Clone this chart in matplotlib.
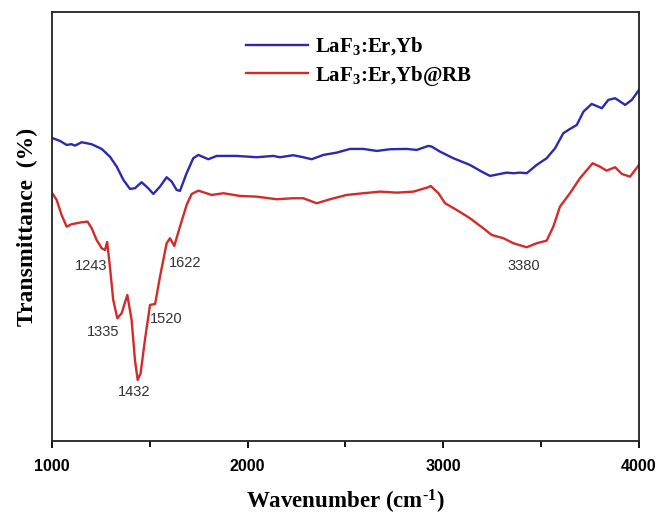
import matplotlib
matplotlib.use("Agg")
import matplotlib.pyplot as plt
from matplotlib.ticker import MultipleLocator

plt.rcParams['mathtext.fontset'] = 'custom'
plt.rcParams['mathtext.rm'] = 'Liberation Serif:bold'
plt.rcParams['mathtext.it'] = 'Liberation Serif:bold'
plt.rcParams['mathtext.bf'] = 'Liberation Serif:bold'

# ---- data (transmittance in arbitrary units) ----
wn_blue = [1000, 1041, 1075, 1100, 1118, 1152, 1203, 1254, 1296, 1331, 1365, 1399,
           1424, 1458, 1492, 1518, 1552, 1586, 1612, 1637, 1654, 1688, 1722, 1748,
           1799, 1842, 1944, 2046, 2131, 2165, 2233, 2284, 2327, 2387, 2455, 2523,
           2591, 2660, 2728, 2813, 2864, 2923, 2941, 2983, 3051, 3136, 3196, 3239,
           3290, 3324, 3358, 3392, 3426, 3477, 3528, 3571, 3613, 3639, 3682, 3716,
           3758, 3810, 3843, 3878, 3929, 3963, 4000]
t_blue = [303.0, 300.0, 296.0, 296.7, 295.3, 298.7, 296.7, 292.0, 284.3, 274.3, 261.0, 252.0,
          252.7, 258.7, 252.7, 247.0, 254.3, 263.7, 259.3, 251.0, 250.0, 267.7, 282.7, 286.0,
          281.7, 285.0, 285.0, 283.7, 285.0, 283.7, 285.7, 283.7, 281.7, 286.0, 288.3, 292.0,
          292.0, 290.0, 291.7, 292.0, 291.0, 295.0, 294.3, 289.3, 282.7, 276.0, 269.3, 265.0,
          267.0, 268.3, 267.7, 268.3, 267.7, 276.0, 282.7, 292.7, 307.7, 311.0, 316.0, 329.3,
          337.0, 332.7, 341.0, 342.7, 336.0, 341.0, 351.0]

wn_red = [1000, 1024, 1049, 1075, 1100, 1126, 1152, 1182, 1203, 1228, 1254, 1271,
          1282, 1296, 1313, 1334, 1356, 1385, 1407, 1424, 1438, 1453, 1475, 1501,
          1527, 1552, 1586, 1603, 1625, 1654, 1688, 1714, 1748, 1816, 1876, 1961,
          2046, 2148, 2233, 2284, 2353, 2421, 2506, 2591, 2676, 2762, 2847, 2923,
          2935, 2975, 3009, 3068, 3136, 3204, 3247, 3307, 3358, 3426, 3477, 3528,
          3562, 3596, 3647, 3698, 3763, 3800, 3834, 3878, 3912, 3954, 4000]
t_red = [248.0, 241.0, 226.0, 214.3, 216.7, 217.7, 218.7, 219.3, 212.7, 201.0, 192.7, 191.0,
         199.0, 174.3, 141.0, 122.7, 127.7, 146.0, 121.0, 81.0, 61.0, 67.7, 101.0, 136.0,
         137.0, 164.3, 197.7, 202.7, 195.0, 214.3, 236.0, 247.0, 250.3, 246.0, 247.7, 245.0,
         244.3, 241.7, 242.7, 242.7, 237.7, 241.7, 246.0, 247.7, 249.3, 248.3, 249.3, 253.7,
         255.0, 247.7, 237.7, 231.0, 222.7, 212.7, 206.0, 202.7, 197.7, 193.7, 197.7, 200.3,
         214.3, 234.3, 247.7, 262.7, 277.7, 274.3, 270.3, 273.7, 267.0, 264.3, 276.0]

peak_labels = ['1243', '1335', '1432', '1520', '1622', '3380']
peak_x = [1200, 1259, 1420, 1586, 1679, 3409]
peak_y = [175, 109, 49, 122, 178, 175]

series_names = [r'LaF$_3$:Er,Yb', r'LaF$_3$:Er,Yb@RB']

# ---- figure ----
fig = plt.figure(figsize=(6.62, 5.17), dpi=100)
ax = fig.add_axes([0.0785, 0.147, 0.8868, 0.830])

ax.plot(wn_blue, t_blue, color='#2a2aae', lw=1.7, label=series_names[0],
        solid_joinstyle='round')
ax.plot(wn_red, t_red, color='#d42a2a', lw=1.7, label=series_names[1],
        solid_joinstyle='round')

for lab, x, y in zip(peak_labels, peak_x, peak_y):
    ax.text(x, y, lab, ha='center', va='center', fontsize=10.5,
            family='Liberation Sans', color='#333333')

ax.set_xlim(1000, 4000)
ax.set_ylim(0, 429)
ax.xaxis.set_major_locator(MultipleLocator(1000))
ax.xaxis.set_minor_locator(MultipleLocator(500))
ax.set_yticks([])
ax.tick_params(axis='x', which='major', direction='out', length=5, width=1.3, pad=8)
ax.tick_params(axis='x', which='minor', direction='out', length=4, width=1.3)
for lbl in ax.get_xticklabels():
    lbl.set_fontfamily('Liberation Sans')
    lbl.set_fontweight('bold')
    lbl.set_fontsize(11.5)
for sp in ax.spines.values():
    sp.set_linewidth(1.3)
    sp.set_color('#222222')

ax.set_xlabel(r'Wavenumber (cm$^{\text{-}1}$)', family='Liberation Serif', fontweight='bold',
              fontsize=16.5, labelpad=10)
ax.set_ylabel('Transmittance  (%)', family='Liberation Serif', fontweight='bold',
              fontsize=17, labelpad=10)

leg = ax.legend(loc='upper left', bbox_to_anchor=(0.33, 0.945), frameon=False,
                prop={'family': 'Liberation Serif', 'weight': 'bold', 'size': 15},
                handlelength=3.0, handletextpad=0.35, labelspacing=0.3,
                borderaxespad=0, borderpad=0)

fig.savefig('out.png', dpi=100)
